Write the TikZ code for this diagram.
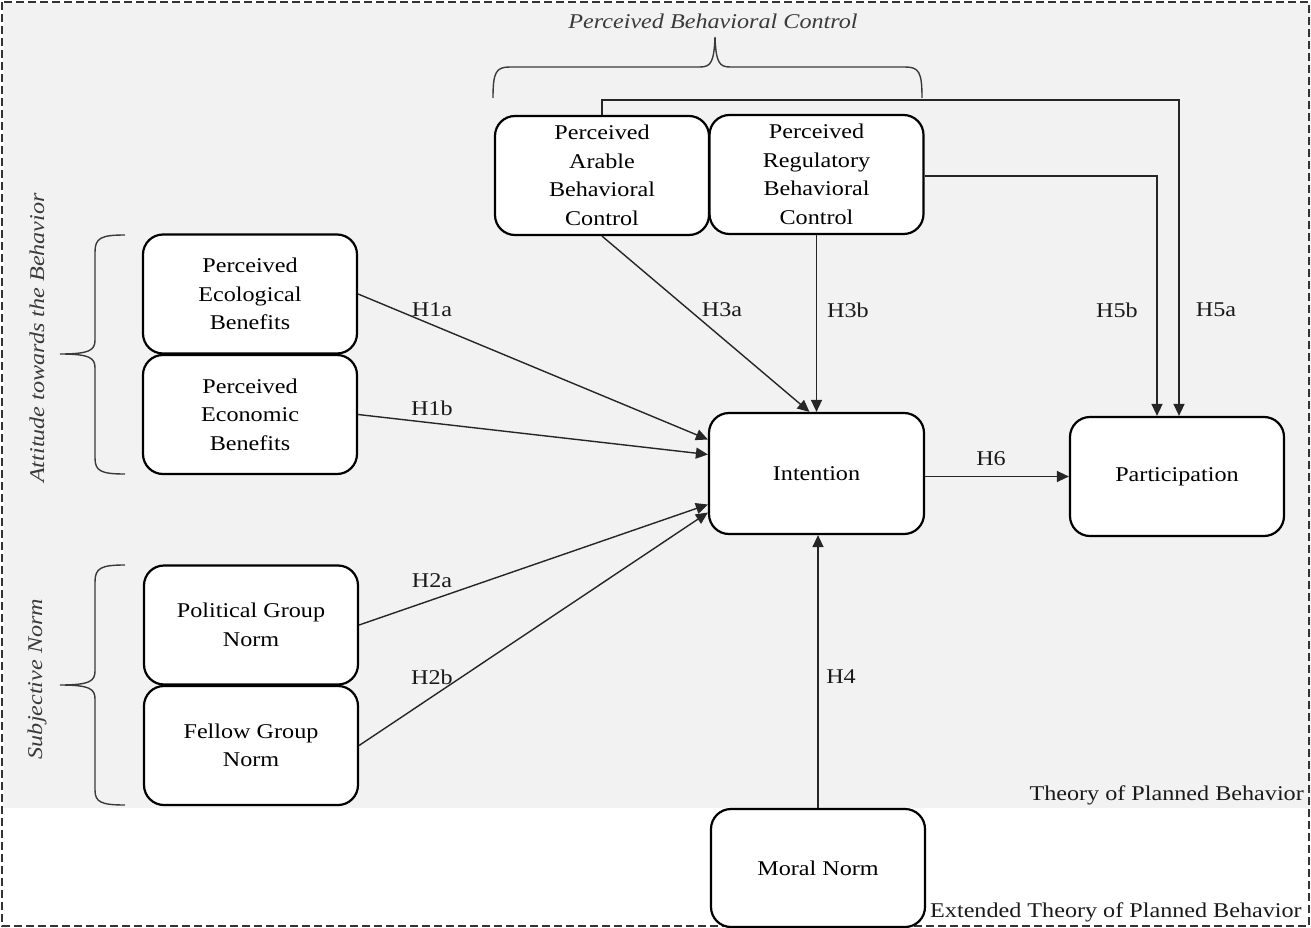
\documentclass[tikz,border=0pt]{standalone}
\usepackage{fontspec}
\setmainfont{Liberation Serif}[FakeStretch=1.15]
\usetikzlibrary{arrows.meta,calc}
\definecolor{bgray}{HTML}{F2F2F2}
\definecolor{lblgray}{HTML}{1A1A1A}
\definecolor{bracegray}{HTML}{3A3A3A}
\begin{document}
\begin{tikzpicture}[x=1pt,y=-1pt,
  txt/.style={font=\fontsize{21}{28.5}\selectfont, text=black, inner sep=0pt},
  box/.style={txt, draw=black, line width=2.2pt, rounded corners=20pt, fill=white,
    minimum width=214pt, minimum height=119pt, align=center},
  lbl/.style={font=\fontsize{21}{26}\selectfont, text=lblgray, inner sep=0pt},
  grp/.style={font=\fontsize{21}{26}\itshape, text=bracegray, inner sep=0pt},
  arr/.style={-{Triangle[length=12pt,width=11pt]}, line width=1.4pt, draw=black!85},
  brace/.style={line width=1.4pt, draw=bracegray}]
\useasboundingbox (0,0) rectangle (1311,928);
\fill[white] (0,0) rectangle (1311,928);
\fill[bgray] (3,3) rectangle (1311,808);
\draw[dashed, dash pattern=on 8pt off 4pt, line width=1.2pt, draw=black!80] (2,2) rectangle (1309,926);

% boxes
\node[box] (ara) at (602,175.5) {Perceived\\Arable\\Behavioral\\Control};
\node[box] (reg) at (816.5,174.5) {Perceived\\Regulatory\\Behavioral\\Control};
\node[box] (eco) at (250,294) {Perceived\\Ecological\\Benefits};
\node[box] (ecn) at (250,414.5) {Perceived\\Economic\\Benefits};
\node[box] (pol) at (251,625) {Political Group\\Norm};
\node[box] (fel) at (251,745.5) {Fellow Group\\Norm};
\node[box, minimum width=215pt, minimum height=121pt] (int) at (816.5,473.5) {Intention};
\node[box] (par) at (1177,476.5) {Participation};
\node[box, minimum height=118pt] (mor) at (818,868) {Moral Norm};

% group labels and braces
\node[grp] (pbc) at (713,21) {Perceived Behavioral Control};
\node[grp, rotate=90] (att) at (37,338) {Attitude towards the Behavior};
\node[grp, rotate=90] (sn) at (37,679) {Subjective Norm};

\draw[brace] (493,98) .. controls (493,72) and (496,67) .. (510,67) -- (700,67)
  .. controls (711,67) and (714,62) .. (715,37) .. controls (716,62) and (719,67) .. (730,67)
  -- (905,67) .. controls (919,67) and (922,72) .. (922,98);
\draw[brace] (125,235) .. controls (101,235) and (95,238) .. (95,252) -- (95,340)
  .. controls (95,350) and (90,354) .. (60,354) .. controls (90,354) and (95,358) .. (95,368)
  -- (95,458) .. controls (95,471) and (101,474) .. (125,474);
\draw[brace] (125,565) .. controls (101,565) and (95,568) .. (95,582) -- (95,671)
  .. controls (95,681) and (90,685) .. (60,685) .. controls (90,685) and (95,689) .. (95,699)
  -- (95,790) .. controls (95,802) and (101,805) .. (125,805);

% theory labels
\node[lbl, anchor=east] (tpb) at (1304,795) {Theory of Planned Behavior};
\node[lbl, anchor=west] (etpb) at (930,912) {Extended Theory of Planned Behavior};

% connectors
\draw[arr] (eco.east) -- ($(int.west)+(0,-34)$);
\draw[arr] (ecn.east) -- ($(int.west)+(0,-19)$);
\draw[arr] (pol.east) -- ($(int.west)+(0,31)$);
\draw[arr] (fel.east) -- ($(int.west)+(0,39)$);
\draw[arr] (ara.south) -- ($(int.north)+(-7,0)$);
\draw[arr] (reg.south) -- (int.north);
\draw[arr] (mor.north) -- (mor.north |- int.south);
\draw[arr] (int.east |- par.west) -- (par.west);
\draw[arr] ($(reg.east)+(0,1.5)$) -| ($(par.north)+(-20,0)$);
\draw[arr] (ara.north) -- ++(0,-15) -| ($(par.north)+(2,0)$);

% hypothesis labels
\node[lbl] (h1a) at (432,310) {H1a};
\node[lbl] (h1b) at (432,408) {H1b};
\node[lbl] (h2a) at (432,581) {H2a};
\node[lbl] (h2b) at (432,677) {H2b};
\node[lbl] (h3a) at (722,310) {H3a};
\node[lbl] (h3b) at (848,310) {H3b};
\node[lbl] (h4) at (841,677) {H4};
\node[lbl] (h5b) at (1117,310) {H5b};
\node[lbl] (h5a) at (1216,310) {H5a};
\node[lbl] (h6) at (991,459) {H6};
\end{tikzpicture}
\end{document}
